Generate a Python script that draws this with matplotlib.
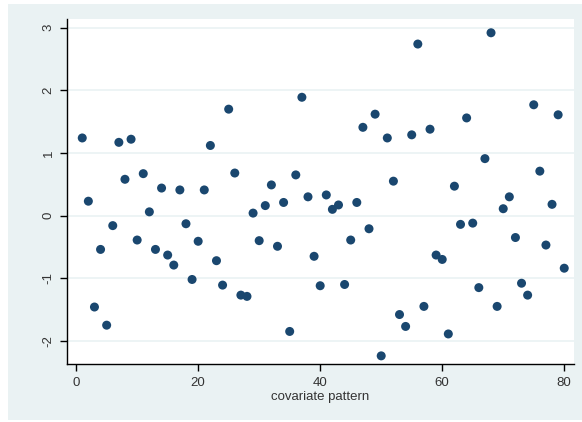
import numpy as np
import matplotlib
matplotlib.use("Agg")
import matplotlib.pyplot as plt
from matplotlib.patches import Rectangle

# data: one residual per covariate pattern
pattern = np.arange(1, 81)
resid = [
    1.24, 0.23, -1.46, -0.54, -1.75, -0.16, 1.17, 0.58, 1.22, -0.39,
    0.67, 0.06, -0.54, 0.44, -0.63, -0.79, 0.41, -0.13, -1.02, -0.41,
    0.41, 1.12, -0.72, -1.11, 1.70, 0.68, -1.27, -1.29, 0.04, -0.40,
    0.16, 0.49, -0.49, 0.21, -1.85, 0.65, 1.89, 0.30, -0.65, -1.12,
    0.33, 0.10, 0.17, -1.10, -0.39, 0.21, 1.41, -0.21, 1.62, -2.24,
    1.24, 0.55, -1.58, -1.77, 1.29, 2.74, -1.45, 1.38, -0.63, -0.70,
    -1.89, 0.47, -0.14, 1.56, -0.12, -1.15, 0.91, 2.92, -1.45, 0.11,
    0.30, -0.35, -1.08, -1.27, 1.77, 0.71, -0.47, 0.18, 1.61, -0.84,
]
xticks = [0, 20, 40, 60, 80]
yticks = [-2, -1, 0, 1, 2, 3]

W, H = 582, 422
BG = "#eaf2f3"
MARKER = "#1a476f"

plt.rcParams["font.family"] = ["Liberation Sans", "DejaVu Sans"]

fig = plt.figure(figsize=(W / 100, H / 100), dpi=100)
fig.patch.set_facecolor("white")
# stata-ish graph region, kept behind the axes
fig.patches.append(Rectangle((8 / W, 2 / H), 1 - 8 / W, 416 / H,
                             transform=fig.transFigure, facecolor=BG,
                             edgecolor="none", zorder=-10))

ax = fig.add_axes([67 / W, (H - 364) / H, (574 - 67) / W, (364 - 19) / H])
ax.set_zorder(1)
ax.set_facecolor("white")

ax.scatter(pattern, resid, s=42, color=MARKER, edgecolors="none", zorder=3)

ax.set_xlim(-1.5, 81.6)
ax.set_ylim(-2.37, 3.14)
ax.set_xticks(xticks)
ax.set_yticks(yticks)
ax.set_yticklabels([str(v) for v in yticks], rotation=90, va="center")
ax.yaxis.grid(True, color=BG, linewidth=1.2, zorder=0)
ax.set_axisbelow(True)

for side in ["top", "right"]:
    ax.spines[side].set_visible(False)
for side in ["left", "bottom"]:
    ax.spines[side].set_color("black")
    ax.spines[side].set_linewidth(1.0)

ax.tick_params(axis="both", direction="out", length=5, width=1,
               colors="black", labelsize=9.5, pad=4)
ax.tick_params(axis="both", labelcolor="#333333")
ax.set_xlabel("covariate pattern", fontsize=9.5, labelpad=2, color="#333333")

fig.savefig("out.png", dpi=100)
